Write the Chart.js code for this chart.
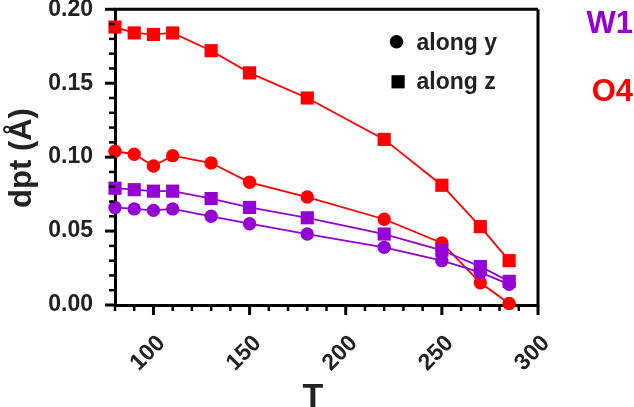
<!DOCTYPE html>
<html><head><meta charset="utf-8">
<script src="https://cdn.jsdelivr.net/npm/chart.js@4/dist/chart.umd.min.js"></script>
<style>html,body{margin:0;padding:0;background:#fff}#wrap{width:634px;height:407px;position:relative}</style>
</head><body><div id="wrap"><canvas id="c"></canvas></div>
<script>
const temperatures = [80, 90, 100, 110, 130, 150, 180, 220, 250, 270, 285];
const w1AlongY = [0.066, 0.065, 0.064, 0.065, 0.060, 0.055, 0.048, 0.039, 0.030, 0.022, 0.014];
const w1AlongZ = [0.079, 0.078, 0.077, 0.077, 0.072, 0.066, 0.059, 0.048, 0.037, 0.026, 0.016];
const o4AlongY = [0.104, 0.102, 0.094, 0.101, 0.096, 0.083, 0.073, 0.058, 0.042, 0.015, 0.001];
const o4AlongZ = [0.188, 0.184, 0.183, 0.184, 0.172, 0.157, 0.140, 0.112, 0.081, 0.053, 0.030];
const xTickLabels = [100, 150, 200, 250, 300];
const yTickLabels = [0.00, 0.05, 0.10, 0.15, 0.20];
const xMinorTicks = [80, 90, 110, 120, 130, 140, 160, 170, 180, 190, 210, 220, 230, 240, 260, 270, 280, 290];
const yMinorTicks = [0.01, 0.02, 0.03, 0.04, 0.06, 0.07, 0.08, 0.09, 0.11, 0.12, 0.13, 0.14, 0.16, 0.17, 0.18, 0.19];
const legendLabels = ['along y', 'along z'];
const groupLabels = ['W1', 'O4'];

const PURPLE = '#9400D3', RED = '#FF0000', INK = '#222222';
const FONT = '"Liberation Sans", Arial, sans-serif';

function ds(label, data, color, style) {
  return {
    label, data: temperatures.map((t, i) => ({x: t, y: data[i]})),
    borderColor: color, backgroundColor: color, borderWidth: 1.8,
    pointStyle: style, pointRadius: style === 'rect' ? 9.3 : 6.7, pointHoverRadius: style === 'rect' ? 9.3 : 6.7,
    pointBorderWidth: 0, tension: 0, clip: false, showLine: true
  };
}

const decor = {
  id: 'decor',
  afterDraw(chart) {
    const {ctx, chartArea: a, scales: {x, y}} = chart;
    ctx.save();
    ctx.strokeStyle = '#000';
    ctx.lineCap = 'butt';
    ctx.lineWidth = 3;
    ctx.beginPath();
    ctx.moveTo(a.left - 1.5, a.top); ctx.lineTo(a.right, a.top);
    ctx.moveTo(a.right, a.top); ctx.lineTo(a.right, a.bottom + 1.5);
    ctx.stroke();
    const tick = (x1, y1, x2, y2, w) => { ctx.lineWidth = w; ctx.beginPath(); ctx.moveTo(x1, y1); ctx.lineTo(x2, y2); ctx.stroke(); };
    xTickLabels.forEach(v => { const px = x.getPixelForValue(v); tick(px, a.bottom, px, a.bottom + 10, 3); });
    xMinorTicks.forEach(v => { const px = x.getPixelForValue(v); tick(px, a.bottom, px, a.bottom + 6, 2.5); });
    yTickLabels.forEach(v => { const py = y.getPixelForValue(v); tick(a.left, py, a.left - 10, py, 3); });
    yMinorTicks.forEach(v => { const py = y.getPixelForValue(v); tick(a.left, py, a.left - 6, py, 2.5); });
    ctx.fillStyle = '#000';
    ctx.beginPath(); ctx.arc(396.5, 41.7, 6.8, 0, Math.PI * 2); ctx.fill();
    ctx.fillRect(391.5, 75.2, 13.2, 13.2);
    ctx.fillStyle = INK;
    ctx.font = 'bold 23px ' + FONT;
    ctx.textAlign = 'left'; ctx.textBaseline = 'alphabetic';
    ctx.fillText(legendLabels[0], 416.5, 50);
    ctx.fillText(legendLabels[1], 416.5, 89);
    ctx.textAlign = 'right';
    ctx.font = 'bold 31px ' + FONT;
    ctx.fillStyle = PURPLE; ctx.fillText(groupLabels[0], 633, 33);
    ctx.fillStyle = RED; ctx.fillText(groupLabels[1], 633, 101);
    ctx.fillStyle = INK;
    ctx.textAlign = 'center';
    ctx.font = 'bold 34px ' + FONT;
    ctx.fillText('T', 313, 407);
    ctx.save();
    ctx.translate(31, 158); ctx.rotate(-Math.PI / 2);
    ctx.font = 'bold 31px ' + FONT;
    ctx.fillText('dpt (Å)', 0, 0);
    ctx.restore();
    ctx.restore();
  }
};

new Chart(document.getElementById('c'), {
  type: 'scatter',
  data: {
    datasets: [
      ds('W1 along y', w1AlongY, PURPLE, 'circle'),
      ds('W1 along z', w1AlongZ, PURPLE, 'rect'),
      ds('O4 along y', o4AlongY, RED, 'circle'),
      ds('O4 along z', o4AlongZ, RED, 'rect')
    ]
  },
  options: {
    responsive: true, maintainAspectRatio: false, animation: false,
    layout: {padding: {left: 0, right: 96, top: 8.5, bottom: 0}},
    plugins: {legend: {display: false}, tooltip: {enabled: false}},
    scales: {
      x: {
        type: 'linear', min: 80, max: 300,
        afterBuildTicks: s => { s.ticks = xTickLabels.map(v => ({value: v})); },
        afterFit: s => { s.height = 102; s.paddingLeft = 0; s.paddingRight = 0; },
        grid: {display: false},
        border: {display: true, color: '#000', width: 3},
        ticks: {minRotation: 45, maxRotation: 45, padding: 17, labelOffset: 8, color: INK,
          font: {family: FONT, size: 23, weight: 'bold'}, callback: v => String(v)}
      },
      y: {
        type: 'linear', min: 0, max: 0.2,
        afterBuildTicks: s => { s.ticks = yTickLabels.map(v => ({value: v})); },
        afterFit: s => { s.width = 115; s.paddingTop = 0; s.paddingBottom = 0; },
        grid: {display: false},
        border: {display: true, color: '#000', width: 3},
        ticks: {padding: 14, color: INK, font: {family: FONT, size: 23, weight: 'bold'},
          callback: v => Number(v).toFixed(2)}
      }
    }
  },
  plugins: [decor]
});
</script></body></html>
